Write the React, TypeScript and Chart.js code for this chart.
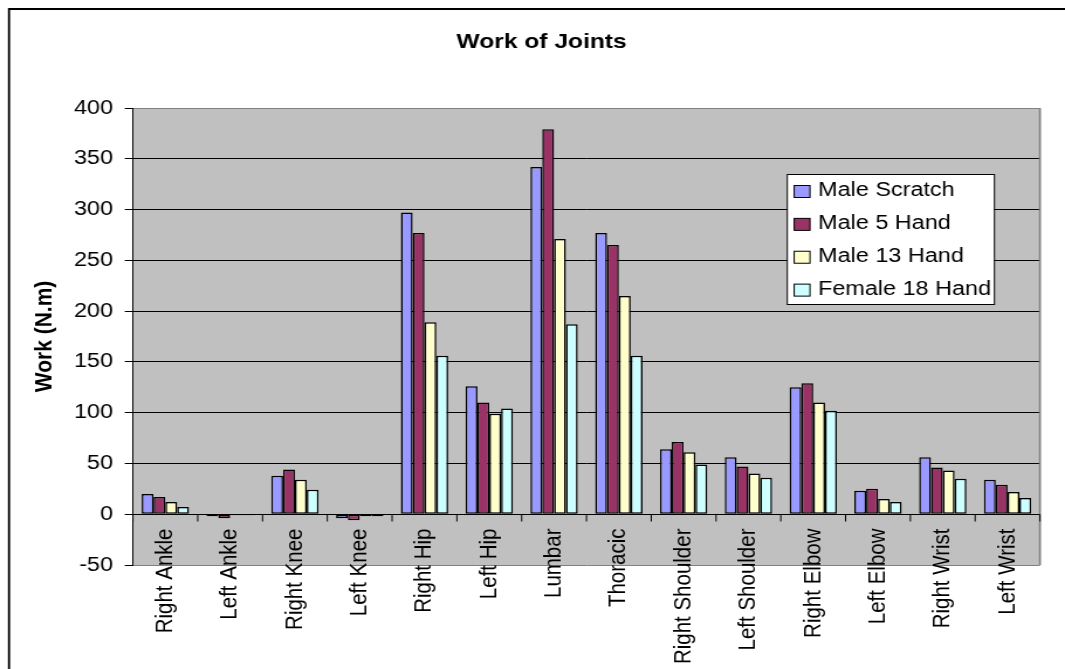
import React, { useEffect, useRef } from 'react';
import { Chart, registerables } from 'chart.js';

Chart.register(...registerables);

// ---- data ----
const categories = [
  'Right Ankle', 'Left Ankle', 'Right Knee', 'Left Knee', 'Right Hip', 'Left Hip', 'Lumbar',
  'Thoracic', 'Right Shoulder', 'Left Shoulder', 'Right Elbow', 'Left Elbow', 'Right Wrist', 'Left Wrist',
];
const seriesLabels = ['Male Scratch', 'Male 5 Hand', 'Male 13 Hand', 'Female 18 Hand'];
const maleScratch = [20, -2, 38, -4, 297, 126, 342, 277, 64, 56, 125, 23, 56, 34];
const male5Hand = [17, -4, 44, -6, 277, 110, 379, 265, 71, 47, 129, 25, 46, 29];
const male13Hand = [12, -1, 34, -2, 189, 99, 271, 215, 61, 40, 110, 15, 43, 22];
const female18Hand = [7, -1, 24, -2, 156, 104, 187, 156, 49, 36, 102, 12, 35, 16];
const seriesColors = ['#9999FF', '#993366', '#FFFFCC', '#CCFFFF'];
const yMin = -50;
const yMax = 400;
const yStep = 50;
const chartTitle = 'Work of Joints';
const yTitle = 'Work (N.m)';

// ---- layout ----
const W = 910;
const H = 669;
const SX = 1065 / W;
const FONT = "'Liberation Sans', Arial, Helvetica, sans-serif";

const decorPlugin = {
  id: 'decor',
  beforeDraw(chart: any) {
    const { ctx, chartArea: a } = chart;
    ctx.save();
    ctx.fillStyle = '#ffffff';
    ctx.fillRect(0, 0, chart.width, chart.height);
    ctx.fillStyle = '#C0C0C0';
    ctx.fillRect(a.left, a.top, a.right - a.left, a.bottom - a.top);
    // outer frame (left + top visible)
    ctx.strokeStyle = '#000';
    ctx.lineWidth = 1.8;
    ctx.beginPath();
    ctx.moveTo(7.7, chart.height + 5);
    ctx.lineTo(7.7, 9);
    ctx.lineTo(chart.width + 5, 9);
    ctx.stroke();
    ctx.restore();
  },
  afterDatasetsDraw(chart: any) {
    const { ctx, chartArea: a } = chart;
    const xs = chart.scales.x;
    const ys = chart.scales.y;
    const zeroY = Math.round(ys.getPixelForValue(0)) + 0.5;
    ctx.save();
    // right border of plot area
    ctx.strokeStyle = '#808080';
    ctx.lineWidth = 1.7;
    ctx.beginPath();
    ctx.moveTo(a.right, a.top);
    ctx.lineTo(a.right, a.bottom);
    ctx.stroke();
    // category axis line at zero
    ctx.strokeStyle = '#000';
    ctx.lineWidth = 1;
    ctx.beginPath();
    ctx.moveTo(a.left, zeroY);
    ctx.lineTo(a.right, zeroY);
    const n = categories.length;
    const catW = (a.right - a.left) / n;
    for (let i = 0; i <= n; i++) {
      const x = a.left + i * catW;
      ctx.moveTo(x, zeroY);
      ctx.lineTo(x, zeroY + 7);
    }
    ctx.stroke();
    // category labels
    ctx.font = `20.5px ${FONT}`;
    ctx.fillStyle = '#000';
    ctx.textAlign = 'right';
    ctx.textBaseline = 'middle';
    categories.forEach((c, i) => {
      const x = xs.getPixelForValue(i);
      ctx.save();
      ctx.translate(x, zeroY + 14);
      ctx.rotate(-Math.PI / 2);
      ctx.fillText(c, 0, 0);
      ctx.restore();
    });
    ctx.restore();
  },
  afterDraw(chart: any) {
    const { ctx } = chart;
    const bx = 672.7;
    const by = 174;
    const bw = 177;
    const bh = 130;
    ctx.save();
    ctx.fillStyle = '#fff';
    ctx.fillRect(bx, by, bw, bh);
    ctx.strokeStyle = '#000';
    ctx.lineWidth = 1;
    ctx.strokeRect(bx, by + 0.5, bw, bh);
    ctx.font = `20px ${FONT}`;
    ctx.textAlign = 'left';
    ctx.textBaseline = 'middle';
    chart.data.datasets.forEach((ds: any, i: number) => {
      const cy = 190.5 + i * 32.87;
      ctx.fillStyle = ds.backgroundColor;
      ctx.fillRect(678.6, cy - 5, 13.5, 12);
      ctx.strokeStyle = '#000';
      ctx.strokeRect(678.6, cy - 5, 13.5, 12);
      ctx.fillStyle = '#000';
      ctx.fillText(ds.label, 699, cy);
    });
    ctx.restore();
  },
};

export default function App() {
  const ref = useRef<HTMLCanvasElement | null>(null);

  useEffect(() => {
    if (!ref.current) return;
    const seriesValues = [maleScratch, male5Hand, male13Hand, female18Hand];
    const chart = new Chart(ref.current, {
      type: 'bar',
      data: {
        labels: categories,
        datasets: seriesLabels.map((label, i) => ({
          label,
          data: seriesValues[i],
          backgroundColor: seriesColors[i],
          borderColor: '#000',
          borderWidth: 1.5,
          borderSkipped: false,
          categoryPercentage: 0.73,
          barPercentage: 1,
        })),
      },
      options: {
        responsive: false,
        animation: false,
        devicePixelRatio: 1,
        layout: { padding: { left: 37, right: W - 888.6, top: 0, bottom: H - 565 } },
        plugins: {
          legend: { display: false },
          tooltip: { enabled: false },
          title: {
            display: true,
            text: chartTitle,
            color: '#000',
            font: { family: FONT, size: 21, weight: 'bold' },
            padding: { top: 29.6, bottom: 53.2 },
          },
        },
        scales: {
          x: { type: 'category', display: false, offset: true },
          y: {
            min: yMin,
            max: yMax,
            afterFit: (s: any) => {
              s.width = 113.6 - 37;
            },
            ticks: { stepSize: yStep, color: '#000', font: { family: FONT, size: 20 }, padding: 10 },
            grid: {
              color: (c: any) =>
                c.tick && (c.tick.value === yMax || c.tick.value === yMin) ? '#808080' : '#000',
              lineWidth: 1,
              tickLength: 7,
              tickColor: '#000',
              drawTicks: true,
            },
            border: { display: true, color: '#000', width: 1 },
            title: {
              display: true,
              text: yTitle,
              color: '#000',
              font: { family: FONT, size: 21, weight: 'bold' },
              padding: { top: -11.15, bottom: 0 },
            },
          },
        },
      },
      plugins: [decorPlugin],
    } as any);
    return () => chart.destroy();
  }, []);

  return (
    <div
      style={{
        position: 'fixed',
        left: 0,
        top: 0,
        width: 1065,
        height: 669,
        overflow: 'hidden',
        background: '#fff',
      }}
    >
      <canvas
        ref={ref}
        width={W}
        height={H}
        style={{
          display: 'block',
          width: W,
          height: H,
          transform: `scaleX(${SX})`,
          transformOrigin: '0 0',
        }}
      />
    </div>
  );
}
